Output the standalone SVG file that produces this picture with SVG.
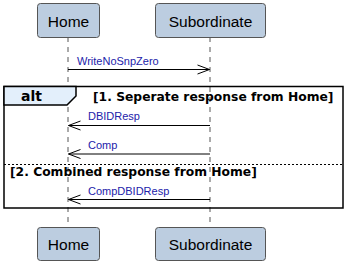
<svg xmlns="http://www.w3.org/2000/svg" width="346" height="263" viewBox="0 0 346 263">
  <defs>
    <marker id="open" markerWidth="14" markerHeight="12" refX="12.5" refY="6" orient="auto" markerUnits="userSpaceOnUse">
      <path d="M0.5,1.5 L12.5,6 L0.5,10.5" fill="none" stroke="#000" stroke-width="1"/>
    </marker>
    <style>
      .actor rect { fill: #bccde0; stroke: #555; stroke-width: 1; }
      .actor text { font-family: "Liberation Sans", Arial, sans-serif; font-size: 15.5px; fill: #000; text-anchor: middle; }
      .life { stroke: #555; stroke-width: 1; stroke-dasharray: 5 5; fill: none; }
      .msg { stroke: #000; stroke-width: 1; fill: none; marker-end: url(#open); }
      .lbl { font-family: "Liberation Sans", Arial, sans-serif; font-size: 11px; fill: #2222aa; }
      .frame { fill: none; stroke: #000; stroke-width: 1.5; }
      .guard { font-family: "DejaVu Sans", sans-serif; font-weight: bold; font-size: 12.3px; fill: #000; }
    </style>
  </defs>

  <!-- lifelines -->
  <g id="lifelines">
    <line class="life" x1="68" y1="37" x2="68" y2="227"/>
    <line class="life" x1="210" y1="37" x2="210" y2="227"/>
  </g>

  <!-- participants, top and bottom -->
  <g id="home-top" class="actor">
    <rect x="37.5" y="3.5" width="62" height="34" rx="3"/>
    <text x="68.5" y="26.5">Home</text>
  </g>
  <g id="sub-top" class="actor">
    <rect x="155.5" y="3.5" width="110" height="34" rx="3"/>
    <text x="210.5" y="26.5">Subordinate</text>
  </g>
  <g id="home-bottom" class="actor">
    <rect x="37.5" y="227.5" width="62" height="33" rx="3"/>
    <text x="68.5" y="249.5">Home</text>
  </g>
  <g id="sub-bottom" class="actor">
    <rect x="155.5" y="227.5" width="110" height="33" rx="3"/>
    <text x="210.5" y="249.5">Subordinate</text>
  </g>

  <!-- alt combined fragment -->
  <g id="alt">
    <rect class="frame" x="4" y="86.5" width="339" height="121.5"/>
    <path d="M4,86.5 L76,86.5 L76,96 L67,105 L4,105 Z" fill="#e3effb" stroke="#000" stroke-width="1.5"/>
    <text x="21" y="100.5" font-family="DejaVu Sans, sans-serif" font-weight="bold" font-size="14px">alt</text>
    <text class="guard" x="93" y="100.5">[1. Seperate response from Home]</text>
    <line x1="4" y1="164.5" x2="343" y2="164.5" stroke="#000" stroke-width="1" stroke-dasharray="2 2"/>
    <text class="guard" x="10" y="176">[2. Combined response from Home]</text>
  </g>

  <!-- messages -->
  <g id="connectors">
    <line class="msg" x1="68" y1="69.5" x2="209.5" y2="69.5"/>
    <text class="lbl" x="77" y="64.5">WriteNoSnpZero</text>
    <line class="msg" x1="210" y1="125.5" x2="68.5" y2="125.5"/>
    <text class="lbl" x="88" y="120">DBIDResp</text>
    <line class="msg" x1="210" y1="154" x2="68.5" y2="154"/>
    <text class="lbl" x="88" y="149">Comp</text>
    <line class="msg" x1="210" y1="199.5" x2="68.5" y2="199.5"/>
    <text class="lbl" x="88" y="194.5">CompDBIDResp</text>
  </g>
</svg>
